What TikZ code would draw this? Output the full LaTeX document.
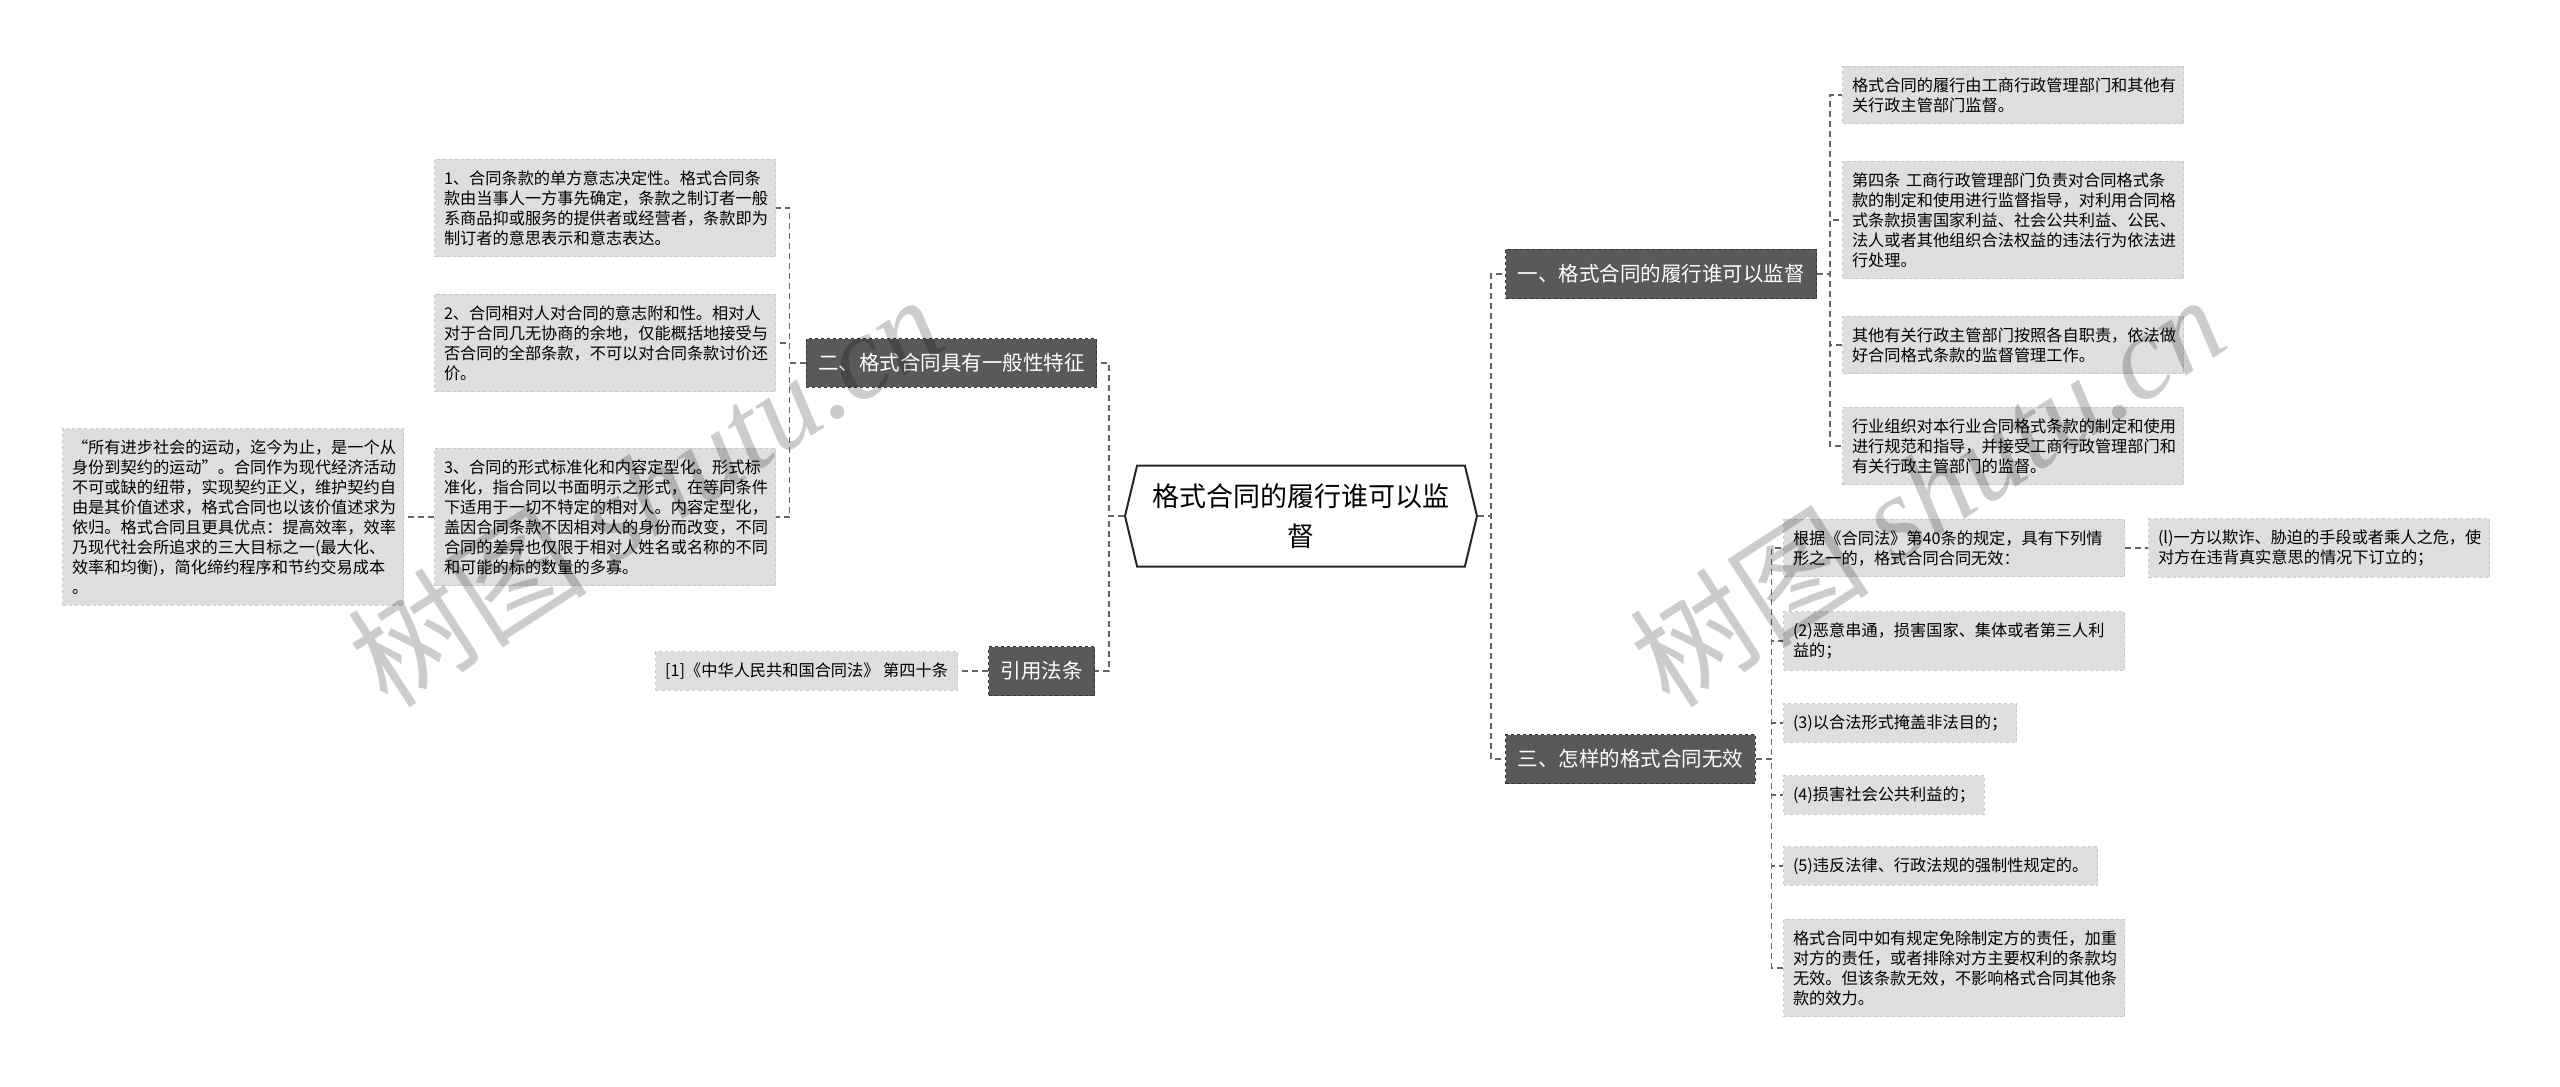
\documentclass[tikz,border=0pt]{standalone}
\usepackage{fontspec}
\setmainfont{Noto Sans CJK SC}
\newfontfamily\marcalatina{Liberation Serif}
\usepackage{tikz}
\usetikzlibrary{positioning,shapes.symbols}
\usepackage{xcolor}
\definecolor{grishoja}{HTML}{DEDEDE}
\definecolor{bordehoja}{HTML}{C8C8C8}
\definecolor{grisrama}{HTML}{595959}
\definecolor{borderama}{HTML}{333333}
\definecolor{gristrazo}{HTML}{666666}

\begin{document}
\begin{tikzpicture}[
  x=1pt, y=-1pt,
  caja/.style={rectangle, draw=bordehoja, fill=grishoja, dashed, line width=1pt, align=left, inner xsep=9.5pt, inner ysep=11pt, font=\fontsize{16.2}{20}\selectfont},
  cajaancha/.style={caja, text width=322pt},
  rama/.style={rectangle, draw=borderama, fill=grisrama, dashed, line width=1pt, text=white, inner xsep=12pt, inner ysep=15pt, font=\fontsize{20.5}{24}\selectfont},
  central/.style={signal, signal to=west and east, signal pointer angle=153, draw=black!85, line width=2pt, fill=white, align=center, text width=300pt, minimum width=352pt, minimum height=101pt, font=\fontsize{27}{40}\selectfont},
  enlace/.style={draw=gristrazo, line width=1.5pt, dash pattern=on 6pt off 4pt},
  marca/.style={text=black, text opacity=0.2, rotate=33, font=\fontsize{120}{120}\selectfont}
]
\useasboundingbox (0,0) rectangle (2560,1087);
\node[central] (main) at (1301,516) {格式合同的履行谁可以监\\督};

\node[rama, anchor=east] (sec2) at (1097,363) {二、格式合同具有一般性特征};
\node[rama, anchor=east] (cita) at (1095,671) {引用法条};
\node[caja, left=30pt of cita] (ley) {[1]《中华人民共和国合同法》 第四十条};
\node[cajaancha, anchor=east] (p1) at (776,208) {1、合同条款的单方意志决定性。格式合同条\\款由当事人一方事先确定，条款之制订者一般\\系商品抑或服务的提供者或经营者，条款即为\\制订者的意思表示和意志表达。};
\node[cajaancha, anchor=east] (p2) at (776,343) {2、合同相对人对合同的意志附和性。相对人\\对于合同几无协商的余地，仅能概括地接受与\\否合同的全部条款，不可以对合同条款讨价还\\价。};
\node[cajaancha, anchor=east] (p3) at (776,517) {3、合同的形式标准化和内容定型化。形式标\\准化，指合同以书面明示之形式，在等同条件\\下适用于一切不特定的相对人。内容定型化，\\盖因合同条款不因相对人的身份而改变，不同\\合同的差异也仅限于相对人姓名或名称的不同\\和可能的标的数量的多寡。};
\node[cajaancha, left=30pt of p3] (frase) {“所有进步社会的运动，迄今为止，是一个从\\身份到契约的运动”。合同作为现代经济活动\\不可或缺的纽带，实现契约正义，维护契约自\\由是其价值述求，格式合同也以该价值述求为\\依归。格式合同且更具优点：提高效率，效率\\乃现代社会所追求的三大目标之一(最大化、\\效率和均衡)，简化缔约程序和节约交易成本\\。};

\node[rama, anchor=west] (sec1) at (1505,274) {一、格式合同的履行谁可以监督};
\node[rama, anchor=west] (sec3) at (1505,759) {三、怎样的格式合同无效};
\node[cajaancha, anchor=west] (m1) at (1842,95) {格式合同的履行由工商行政管理部门和其他有\\关行政主管部门监督。};
\node[cajaancha, anchor=west] (m2) at (1842,220) {第四条 工商行政管理部门负责对合同格式条\\款的制定和使用进行监督指导，对利用合同格\\式条款损害国家利益、社会公共利益、公民、\\法人或者其他组织合法权益的违法行为依法进\\行处理。};
\node[cajaancha, anchor=west] (m3) at (1842,345) {其他有关行政主管部门按照各自职责，依法做\\好合同格式条款的监督管理工作。};
\node[cajaancha, anchor=west] (m4) at (1842,446) {行业组织对本行业合同格式条款的制定和使用\\进行规范和指导，并接受工商行政管理部门和\\有关行政主管部门的监督。};
\node[cajaancha, anchor=west] (n1) at (1783,548) {根据《合同法》第40条的规定，具有下列情\\形之一的，格式合同合同无效：};
\node[cajaancha, right=23pt of n1] (n1a) {(l)一方以欺诈、胁迫的手段或者乘人之危，使\\对方在违背真实意思的情况下订立的；};
\node[cajaancha, anchor=west] (n2) at (1783,641) {(2)恶意串通，损害国家、集体或者第三人利\\益的；};
\node[caja, anchor=west] (n3) at (1783,723) {(3)以合法形式掩盖非法目的；};
\node[caja, anchor=west] (n4) at (1783,795) {(4)损害社会公共利益的；};
\node[caja, anchor=west] (n5) at (1783,866) {(5)违反法律、行政法规的强制性规定的。};
\node[cajaancha, anchor=west] (n6) at (1783,968) {格式合同中如有规定免除制定方的责任，加重\\对方的责任，或者排除对方主要权利的条款均\\无效。但该条款无效，不影响格式合同其他条\\款的效力。};

\draw[enlace] (main.west) -- ++(-15,0) |- (sec2.east);
\draw[enlace] (main.west) -- ++(-15,0) |- (cita.east);
\draw[enlace] (main.east) -- ++(13,0) |- (sec1.west);
\draw[enlace] (main.east) -- ++(13,0) |- (sec3.west);
\draw[enlace] (sec2.west) -- ++(-16,0) |- (p1.east);
\draw[enlace] (sec2.west) -- ++(-16,0) |- (p2.east);
\draw[enlace] (sec2.west) -- ++(-16,0) |- (p3.east);
\draw[enlace] (p3) -- (frase);
\draw[enlace] (cita) -- (ley);
\draw[enlace] (sec1.east) -- ++(13,0) |- (m1.west);
\draw[enlace] (sec1.east) -- ++(13,0) |- (m2.west);
\draw[enlace] (sec1.east) -- ++(13,0) |- (m3.west);
\draw[enlace] (sec1.east) -- ++(13,0) |- (m4.west);
\draw[enlace] (sec3.east) -- ++(16,0) |- (n1.west);
\draw[enlace] (sec3.east) -- ++(16,0) |- (n2.west);
\draw[enlace] (sec3.east) -- ++(16,0) |- (n3.west);
\draw[enlace] (sec3.east) -- ++(16,0) |- (n4.west);
\draw[enlace] (sec3.east) -- ++(16,0) |- (n5.west);
\draw[enlace] (sec3.east) -- ++(16,0) |- (n6.west);
\draw[enlace] (n1) -- (n1a);

\node[marca] (wmizq) at (645,490) {树图 {\marcalatina\itshape shutu.cn}};
\node[marca] (wmder) at (1927,490) {树图 {\marcalatina\itshape shutu.cn}};
\end{tikzpicture}
\end{document}
